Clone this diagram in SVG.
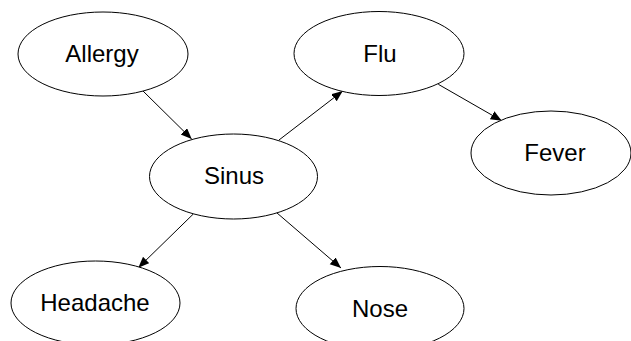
<svg xmlns="http://www.w3.org/2000/svg" width="631" height="341" viewBox="0 0 631 341">
<style>
.node ellipse{fill:#fff;stroke:#000;stroke-width:1}
.node text{font-family:"Liberation Sans",Arial,sans-serif;font-size:24px;text-anchor:middle;fill:#000}
.edge{stroke:#000;stroke-width:1;fill:none;marker-end:url(#arr)}
</style>
<defs>
<marker id="arr" markerUnits="userSpaceOnUse" markerWidth="12" markerHeight="10" refX="11" refY="4.5" orient="auto">
<path d="M0,0 L11,4.5 L0,9 z" fill="#000"/>
</marker>
</defs>
<rect width="631" height="341" fill="#fff"/>
<g id="connectors">
<line class="edge" x1="143" y1="91" x2="191.7" y2="139"/>
<line class="edge" x1="279" y1="140" x2="342.7" y2="91"/>
<line class="edge" x1="438.3" y1="84.3" x2="501.7" y2="120.7"/>
<line class="edge" x1="193.3" y1="214" x2="138.3" y2="267.7"/>
<line class="edge" x1="276.7" y1="212.7" x2="341" y2="268"/>
</g>
<g id="allergy" class="node"><ellipse cx="103" cy="54" rx="85" ry="42"/><text x="102" y="62">Allergy</text></g>
<g id="flu" class="node"><ellipse cx="379" cy="53.5" rx="85" ry="42"/><text x="380" y="62">Flu</text></g>
<g id="fever" class="node"><ellipse cx="551" cy="153" rx="80" ry="42"/><text x="555" y="161">Fever</text></g>
<g id="sinus" class="node"><ellipse cx="233.5" cy="176.5" rx="84" ry="42.5"/><text x="234" y="184">Sinus</text></g>
<g id="headache" class="node"><ellipse cx="95.5" cy="303" rx="84.5" ry="42"/><text x="95" y="311">Headache</text></g>
<g id="nose" class="node"><ellipse cx="380" cy="308.5" rx="84" ry="42"/><text x="380" y="316.5">Nose</text></g>
</svg>
